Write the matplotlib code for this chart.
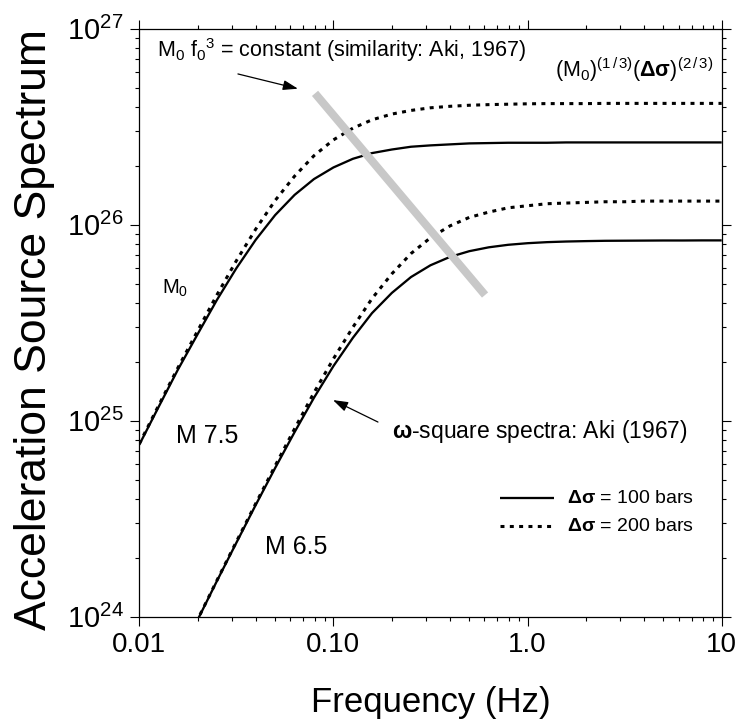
import matplotlib
matplotlib.use("Agg")
import matplotlib.pyplot as plt
from matplotlib.ticker import FixedLocator, LogLocator, NullFormatter

plt.rcParams['font.family'] = ['Liberation Sans', 'DejaVu Sans']
plt.rcParams['mathtext.fontset'] = 'custom'
plt.rcParams['mathtext.rm'] = 'Liberation Sans'
plt.rcParams['mathtext.it'] = 'Liberation Sans:italic'
plt.rcParams['mathtext.bf'] = 'Liberation Sans:bold'
plt.rcParams['mathtext.default'] = 'regular'

# ---- data ----
freq = [0.01, 0.0126, 0.0158, 0.02, 0.0251, 0.0316, 0.0398, 0.0501, 0.0631, 0.0794,
        0.1, 0.126, 0.158, 0.2, 0.251, 0.316, 0.398, 0.501, 0.631, 0.794,
        1.0, 1.26, 1.58, 2.0, 2.51, 3.16, 3.98, 5.01, 6.31, 7.94, 10.0]
m75_100 = [7.54e24, 1.18e25, 1.82e25, 2.77e25, 4.13e25, 5.99e25, 8.38e25, 1.12e26, 1.42e26, 1.71e26,
           1.96e26, 2.17e26, 2.32e26, 2.42e26, 2.50e26, 2.54e26, 2.57e26, 2.60e26, 2.61e26, 2.62e26,
           2.62e26, 2.62e26, 2.63e26, 2.63e26, 2.63e26, 2.63e26, 2.63e26, 2.63e26, 2.63e26, 2.63e26, 2.63e26]
m75_200 = [7.62e24, 1.20e25, 1.86e25, 2.88e25, 4.38e25, 6.54e25, 9.50e25, 1.33e26, 1.77e26, 2.25e26,
           2.71e26, 3.11e26, 3.43e26, 3.67e26, 3.83e26, 3.95e26, 4.02e26, 4.07e26, 4.10e26, 4.12e26,
           4.14e26, 4.15e26, 4.15e26, 4.15e26, 4.16e26, 4.16e26, 4.16e26, 4.16e26, 4.16e26, 4.16e26, 4.16e26]
m65_100 = [2.45e23, 3.87e23, 6.12e23, 9.66e23, 1.52e24, 2.38e24, 3.72e24, 5.74e24, 8.75e24, 1.31e25,
           1.90e25, 2.65e25, 3.54e25, 4.49e25, 5.41e25, 6.21e25, 6.85e25, 7.33e25, 7.67e25, 7.90e25,
           8.05e25, 8.15e25, 8.21e25, 8.25e25, 8.28e25, 8.29e25, 8.30e25, 8.31e25, 8.31e25, 8.32e25, 8.32e25]
m65_200 = [2.45e23, 3.88e23, 6.14e23, 9.70e23, 1.53e24, 2.41e24, 3.78e24, 5.89e24, 9.10e24, 1.39e25,
           2.07e25, 3.00e25, 4.20e25, 5.62e25, 7.13e25, 8.58e25, 9.86e25, 1.09e26, 1.16e26, 1.22e26,
           1.25e26, 1.28e26, 1.29e26, 1.30e26, 1.31e26, 1.31e26, 1.32e26, 1.32e26, 1.32e26, 1.32e26, 1.32e26]
# similarity line (M0 f0^3 = constant)
sim_freq = [0.0804, 0.604]
sim_amp = [4.68e26, 4.38e25]

xticks = [0.01, 0.1, 1.0, 10.0]
xticklabels = ['0.01', '0.10', '1.0', '10']
yticks = [1e24, 1e25, 1e26, 1e27]
yticklabels = [r'$10^{24}$', r'$10^{25}$', r'$10^{26}$', r'$10^{27}$']

# ---- figure ----
fig = plt.figure(figsize=(7.4, 7.22), dpi=100)
ax = fig.add_axes([0.1882, 0.1458, 0.7871, 0.8144])
ax.set_xscale('log')
ax.set_yscale('log')
ax.set_xlim(0.01, 10)
ax.set_ylim(1e24, 1e27)

solid_kw = dict(color='black', lw=1.65, solid_capstyle='butt', zorder=2)
dot_kw = dict(color='black', lw=2.2, linestyle=(0, (1.3, 1.75)), dash_capstyle='butt', zorder=2)
ax.plot(freq, m75_100, **solid_kw)
ax.plot(freq, m75_200, **dot_kw)
ax.plot(freq, m65_100, **solid_kw)
ax.plot(freq, m65_200, **dot_kw)
ax.plot(sim_freq, sim_amp, color='#c8c8c8', lw=5.8, solid_capstyle='butt', zorder=3)

ax.xaxis.set_major_locator(FixedLocator(xticks))
ax.set_xticklabels(xticklabels)
ax.xaxis.set_minor_locator(LogLocator(base=10, subs=range(2, 10), numticks=20))
ax.xaxis.set_minor_formatter(NullFormatter())
ax.yaxis.set_major_locator(FixedLocator(yticks))
ax.set_yticklabels(yticklabels)
ax.yaxis.set_minor_locator(LogLocator(base=10, subs=range(2, 10), numticks=20))
ax.yaxis.set_minor_formatter(NullFormatter())
ax.tick_params(which='both', direction='out', top=True, right=True, width=0.8)
ax.tick_params(which='major', length=6.3, pad=5)
ax.tick_params(which='minor', length=3.1)
ax.tick_params(axis='x', labelsize=20)
ax.tick_params(axis='y', labelsize=21)
for s in ax.spines.values():
    s.set_linewidth(0.9)

ax.set_xlabel('Frequency (Hz)', fontsize=25, labelpad=20)
ax.set_ylabel('Acceleration Source Spectrum', fontsize=32)
ax.yaxis.set_label_coords(-0.145, 0.4876)

tr = ax.transAxes
ax.text(0.0304, 0.9639, r'M$_0$ f$_0$$^3$ = constant (similarity: Aki, 1967)', transform=tr,
        fontsize=15.5, ha='left', va='center')
ax.annotate('', xy=(0.2724, 0.8980), xytext=(0.1694, 0.9231), xycoords=tr, textcoords=tr,
            arrowprops=dict(arrowstyle='-|>,head_length=0.9,head_width=0.3', color='black', lw=0.9,
                            shrinkA=0, shrinkB=0))
ax.text(0.9851, 0.9298, r'(M$_0$)$^{(1\,/\,3)}$($\mathbf{\Delta\sigma}$)$^{(2\,/\,3)}$', transform=tr,
        fontsize=15.5, ha='right', va='center')
ax.text(0.0613, 0.5588, r'M$_0$', transform=tr, fontsize=14.5, ha='center', va='center')
ax.text(0.1165, 0.3073, 'M 7.5', transform=tr, fontsize=18, ha='center', va='center')
ax.text(0.2691, 0.1185, 'M 6.5', transform=tr, fontsize=18, ha='center', va='center')
ax.text(0.4340, 0.3158, r'$\mathbf{\omega}$-square spectra: Aki (1967)', transform=tr,
        fontsize=16.5, ha='left', va='center')
ax.annotate('', xy=(0.3326, 0.3685), xytext=(0.4098, 0.3311), xycoords=tr, textcoords=tr,
            arrowprops=dict(arrowstyle='-|>,head_length=0.9,head_width=0.3', color='black', lw=0.9,
                            shrinkA=0, shrinkB=0))

# legend
ax.plot([0.6188, 0.7115], [0.2018, 0.2018], transform=tr, **solid_kw)
ax.plot([0.6188, 0.7115], [0.1542, 0.1542], transform=tr, **dot_kw)
ax.text(0.7338, 0.2018, r'$\mathbf{\Delta\sigma}$ = 100 bars', transform=tr, fontsize=14, ha='left', va='center')
ax.text(0.7338, 0.1542, r'$\mathbf{\Delta\sigma}$ = 200 bars', transform=tr, fontsize=14, ha='left', va='center')

fig.savefig('out.png', dpi=100)
